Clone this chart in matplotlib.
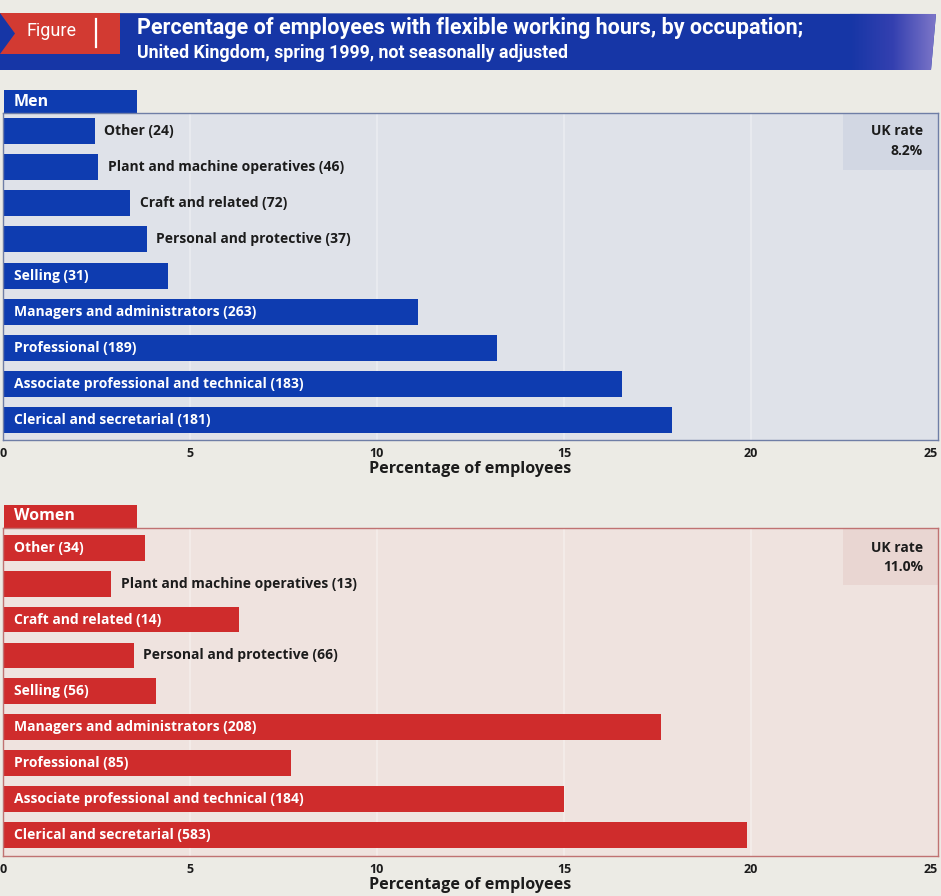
import numpy as np
import matplotlib
matplotlib.use("Agg")
import matplotlib.pyplot as plt
from matplotlib.patches import Rectangle, Polygon

# ── data ────────────────────────────────────────────
occupations = [
    "Other", "Plant and machine operatives", "Craft and related",
    "Personal and protective", "Selling", "Managers and administrators",
    "Professional", "Associate professional and technical",
    "Clerical and secretarial",
]
men_counts = [24, 46, 72, 37, 31, 263, 189, 183, 181]
men_pct = [2.45, 2.55, 3.4, 3.85, 4.4, 11.1, 13.2, 16.55, 17.9]
women_counts = [34, 13, 14, 66, 56, 208, 85, 184, 583]
women_pct = [3.8, 2.9, 6.3, 3.5, 4.1, 17.6, 7.7, 15.0, 19.9]
men_uk_rate = 8.2
women_uk_rate = 11.0
xticks = [0, 5, 10, 15, 20, 25]

TITLE = "Percentage of employees with flexible working hours, by occupation;"
SUBTITLE = "United Kingdom, spring 1999, not seasonally adjusted"

# ── look ───────────────────────────────────────────
W, H = 941, 896
PAPER = "#ecebe5"
BLUE = "#0e3cb0"
BANNER = "#1636a6"
RED = "#cf2c2c"
TAB_RED = "#d23a32"
DARK = "#1c1c1c"
LABEL_FONT = ["Open Sans", "DejaVu Sans"]
TITLE_FONT = ["Roboto", "DejaVu Sans"]

PANELS = [
    dict(name="Men", pct=men_pct, counts=men_counts, rate=men_uk_rate,
         bar=BLUE, face="#dfe2e9", box="#d2d7e3", edge="#6f7ea6",
         top=113, bottom=440, ylim=(8.55, -0.5),
         inside=[False, False, False, False, True, True, True, True, True]),
    dict(name="Women", pct=women_pct, counts=women_counts, rate=women_uk_rate,
         bar=RED, face="#efe3df", box="#e9d6d2", edge="#c07272",
         top=528, bottom=856, ylim=(8.585, -0.55),
         inside=[True, False, True, False, True, True, True, True, True]),
]
X0_PX, X25_PX = 3, 938


def px_axes(fig, top, bottom):
    left = X0_PX / W
    width = (X25_PX - X0_PX) / W
    return fig.add_axes([left, 1 - bottom / H, width, (bottom - top) / H])


def draw_header(bg):
    # blue banner with a slanted right end fading to violet
    banner = Polygon([(0, 13), (936, 14), (931, 70), (0, 70)], closed=True,
                     facecolor=BANNER, edgecolor="none")
    bg.add_patch(banner)
    grad = np.linspace(0, 1, 200)[None, :]
    cmap = matplotlib.colors.LinearSegmentedColormap.from_list(
        "fade", [BANNER, "#3440b0", "#7d76c8"])
    im = bg.imshow(grad, extent=(850, 936, 70, 13), cmap=cmap,
                   aspect="auto", zorder=2)
    im.set_clip_path(banner)

    # red "Figure" tab with an arrow notch on the left
    tab = Polygon([(0, 13), (120, 13), (120, 54), (0, 54), (15, 33.5)],
                  closed=True, facecolor=TAB_RED, edgecolor="none", zorder=3)
    bg.add_patch(tab)
    bg.plot([96, 96], [19, 47], color="white", lw=1.6, zorder=4)
    bg.text(27, 31, "Figure", color="white", fontsize=13,
            family=TITLE_FONT, va="center", ha="left", zorder=4)
    bg.text(137, 28, TITLE, color="white", fontsize=15.5, fontweight="bold",
            family=TITLE_FONT, va="center", ha="left", zorder=4)
    bg.text(137, 53, SUBTITLE, color="white", fontsize=12.8, fontweight="bold",
            family=TITLE_FONT, va="center", ha="left", zorder=4)


def draw_panel(fig, bg, p):
    ax = px_axes(fig, p["top"], p["bottom"])
    ax.set_facecolor(p["face"])
    ax.set_xlim(0, 25)
    ax.set_ylim(*p["ylim"])
    y = np.arange(len(occupations))

    # section tab above the panel
    bg.add_patch(Rectangle((4, p["top"] - 23), 133, 23, facecolor=p["bar"],
                           edgecolor="none"))
    bg.text(14, p["top"] - 11.5, p["name"], color="white", fontsize=11.5,
            fontweight="bold", family=LABEL_FONT, va="center", ha="left")

    for gx in xticks[1:-1]:
        ax.axvline(gx, color="white", lw=1.2, alpha=0.35, zorder=0.5)

    ax.add_patch(Rectangle((22.45, p["ylim"][1]), 25 - 22.45,
                           1.58, facecolor=p["box"], edgecolor="none",
                           zorder=0.6))
    ax.text(24.6, 0.0, "UK rate", ha="right", va="center", fontsize=10,
            fontweight="bold", color=DARK, family=LABEL_FONT)
    ax.text(24.6, 0.55, f"{p['rate']:.1f}%", ha="right", va="center",
            fontsize=10, fontweight="bold", color=DARK, family=LABEL_FONT)

    ax.barh(y, p["pct"], height=0.72, color=p["bar"], zorder=2)

    for yi, name, n, v, inside in zip(y, occupations, p["counts"],
                                      p["pct"], p["inside"]):
        label = f"{name} ({n})"
        if inside:
            ax.text(0.3, yi, label, color="white", fontsize=10,
                    fontweight="bold", family=LABEL_FONT, va="center",
                    ha="left", zorder=3)
        else:
            ax.text(v + 0.25, yi, label, color=DARK, fontsize=10,
                    fontweight="bold", family=LABEL_FONT, va="center",
                    ha="left", zorder=3)

    for side in ("top", "right", "bottom", "left"):
        ax.spines[side].set_color(p["edge"])
        ax.spines[side].set_linewidth(1.0)
    ax.set_yticks([])
    ax.set_xticks(xticks)
    ticklabels = ax.set_xticklabels([str(t) for t in xticks], fontsize=9,
                                    fontweight="bold", color=DARK,
                                    family=LABEL_FONT)
    ticklabels[-1].set_ha("right")
    ax.tick_params(axis="x", length=0, pad=5)
    ax.set_xlabel("Percentage of employees", fontsize=11.6, fontweight="bold",
                  color=DARK, family=LABEL_FONT, labelpad=1)
    return ax


def main():
    fig = plt.figure(figsize=(W / 100, H / 100), dpi=100, facecolor=PAPER)
    bg = fig.add_axes([0, 0, 1, 1], zorder=0)
    bg.set_xlim(0, W)
    bg.set_ylim(H, 0)
    bg.axis("off")

    draw_header(bg)
    for p in PANELS:
        draw_panel(fig, bg, p)

    fig.savefig("out.png", dpi=100, facecolor=PAPER)


if __name__ == "__main__":
    main()
